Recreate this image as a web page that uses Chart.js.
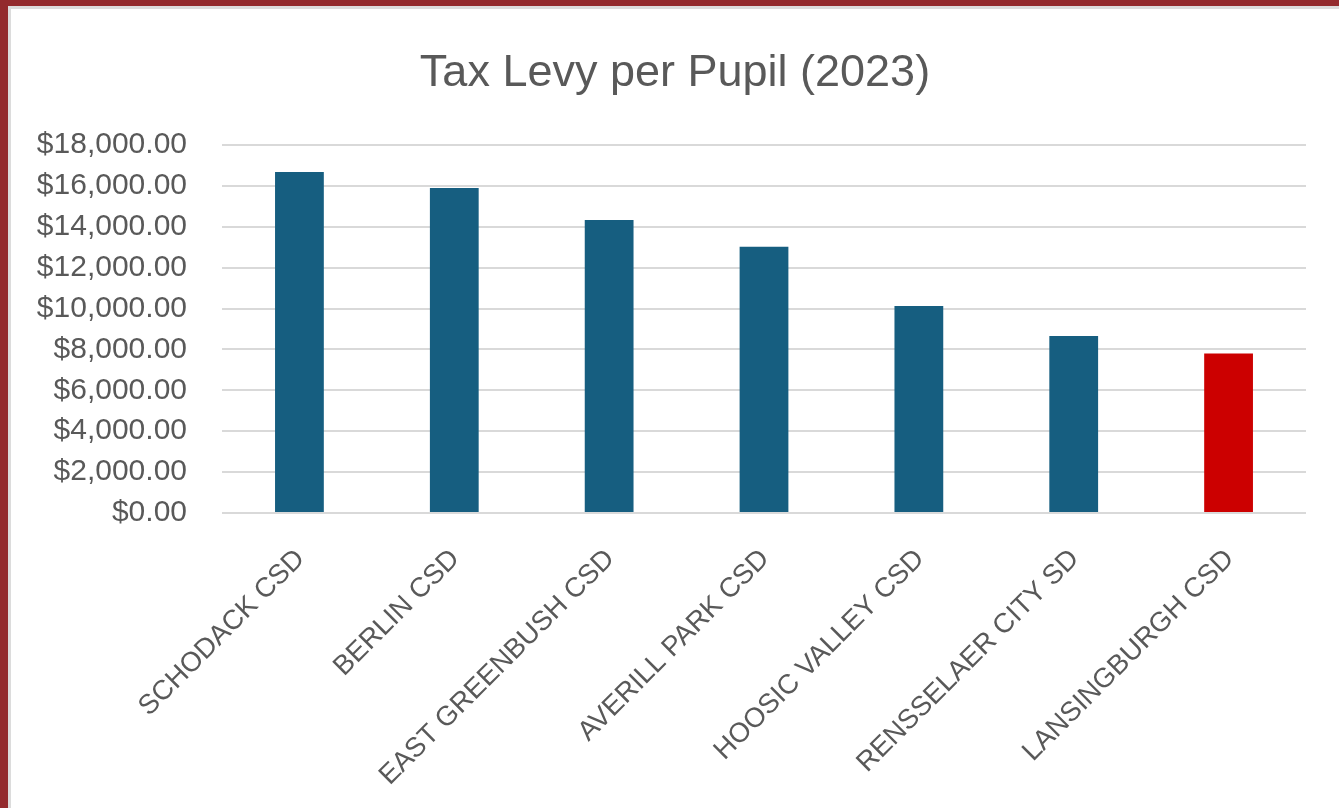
<!DOCTYPE html>
<html>
<head>
<meta charset="utf-8">
<script src="https://cdn.jsdelivr.net/npm/chart.js@4"></script>
<style>
    html, body { margin: 0; padding: 0; width: 1339px; height: 808px; overflow: hidden; background: #932a2d; }
    .marco {
        position: absolute; left: 8px; top: 6px; right: 0; bottom: 0;
        background: #fff; border-left: 3px solid #dcdcdc; border-top: 3px solid #dcdcdc;
    }
    canvas { display: block; }
</style>
</head>
<body>
<div class="marco"><canvas id="grafico" width="1328" height="799"></canvas></div>
<script>
const distritos = ["SCHODACK CSD", "BERLIN CSD", "EAST GREENBUSH CSD", "AVERILL PARK CSD",
    "HOOSIC VALLEY CSD", "RENSSELAER CITY SD", "LANSINGBURGH CSD"];
const montos = [16683, 15902, 14327, 13024, 10127, 8663, 7805];
const colores = ["#165e80", "#165e80", "#165e80", "#165e80", "#165e80", "#165e80", "#cc0000"];
const ejeMin = 0, ejeMax = 18000, ejePaso = 2000;

const GRIS = "#595959";
const FUENTE = "'Liberation Sans', Arial, sans-serif";

function dolares(n) {
    return "$" + Number(n).toLocaleString("en-US", { minimumFractionDigits: 2, maximumFractionDigits: 2 });
}

new Chart(document.getElementById("grafico"), {
    type: "bar",
    data: {
        labels: distritos,
        datasets: [{ data: montos, backgroundColor: colores, barPercentage: 0.315, categoryPercentage: 1 }],
    },
    options: {
        responsive: false,
        animation: false,
        layout: { padding: 0 },
        plugins: {
            legend: { display: false },
            tooltip: { enabled: false },
            title: {
                display: true,
                text: "Tax Levy per Pupil (2023)",
                color: GRIS,
                font: { family: FUENTE, size: 45, weight: "normal" },
                padding: { top: 38, bottom: 44 },
            },
        },
        scales: {
            x: {
                grid: { display: false, drawTicks: false },
                border: { display: false },
                afterFit: (eje) => { eje.height = 295; },
                ticks: {
                    color: GRIS, font: { family: FUENTE, size: 27.5 },
                    minRotation: 45, maxRotation: 45, padding: 30, labelOffset: 1, autoSkip: false,
                },
            },
            y: {
                min: ejeMin, max: ejeMax,
                grid: { color: "#d9d9d9", lineWidth: 2, drawTicks: false },
                border: { display: false },
                afterFit: (eje) => { eje.width = 211; },
                ticks: {
                    stepSize: ejePaso, color: GRIS, padding: 35,
                    font: { family: FUENTE, size: 30 },
                    callback: (v) => dolares(v),
                },
            },
            // eje vacío a la derecha: solo reserva el margen sin descentrar el título
            derecha: {
                position: "right",
                grid: { display: false, drawTicks: false },
                border: { display: false },
                ticks: { display: false },
                afterFit: (eje) => { eje.width = 33; },
            },
        },
    },
});
</script>
</body>
</html>
